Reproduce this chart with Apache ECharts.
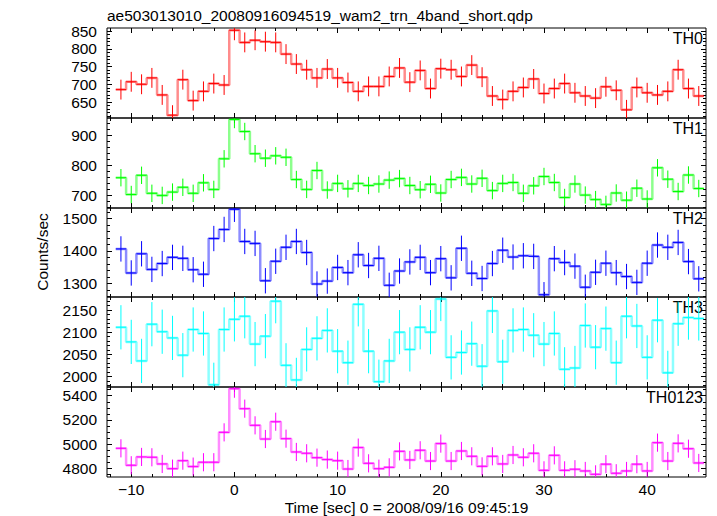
<!DOCTYPE html>
<html>
<head>
<meta charset="utf-8">
<script src="https://cdn.jsdelivr.net/npm/echarts@6/dist/echarts.min.js"></script>
<style>html,body{margin:0;padding:0;background:#fff}#c{width:717px;height:516px}</style>
</head>
<body>
<div id="c"></div>
<script>
// ---- data (bin centres in seconds, counts/sec) ----
const time = [-11,-10,-9,-8,-7,-6,-5,-4,-3,-2,-1,0,1,2,3,4,5,6,7,8,9,10,11,12,13,14,15,16,17,18,19,20,21,22,23,24,25,26,27,28,29,30,31,32,33,34,35,36,37,38,39,40,41,42,43,44,45];
const th0 = [685,707,700,718,670,613,713,654,680,702,698,852,818,824,820,818,785,757,741,718,743,718,705,680,694,694,722,746,706,739,688,744,741,722,754,720,667,657,680,691,715,674,688,702,676,667,661,693,683,628,691,676,670,680,741,688,667];
const th1 = [759,703,767,707,700,711,727,707,742,720,822,953,913,839,824,832,827,753,720,783,718,740,722,740,733,738,751,756,733,719,737,708,753,760,738,757,716,740,743,707,732,763,743,693,738,701,686,670,708,684,724,688,792,754,713,768,723];
const th2 = [1406,1332,1391,1343,1361,1380,1377,1342,1328,1438,1466,1528,1429,1423,1308,1368,1411,1429,1395,1298,1307,1349,1333,1388,1355,1377,1294,1338,1366,1380,1333,1376,1317,1408,1331,1315,1361,1402,1381,1385,1383,1265,1376,1364,1353,1288,1334,1362,1333,1321,1303,1362,1418,1411,1426,1367,1314];
const th3 = [2111,2078,2035,2118,2101,2087,2048,2106,2097,1981,2106,2129,2136,2073,2091,2170,2025,1992,2061,2086,2104,2057,2031,2163,2057,1988,2035,2100,2061,2111,2100,2175,2043,2054,2074,2023,2148,2033,2104,2106,2093,2073,2097,2016,2019,2115,2066,2108,2031,2136,2114,2043,2127,2008,2119,2133,2131];
const th0123 = [4965,4825,4894,4891,4836,4797,4863,4814,4850,4850,5097,5458,5293,5155,5042,5185,5045,4935,4924,4888,4872,4863,4794,4971,4841,4797,4808,4940,4869,4949,4860,5004,4860,4943,4899,4816,4899,4836,4910,4891,4924,4783,4907,4783,4792,4778,4750,4834,4759,4778,4834,4778,5012,4860,5006,4962,4844];
// half-length of the error bars
const errors = [28, 29, 39, 50, 75];
const binHalfWidth = 0.5;

const panelNames = ['TH0','TH1','TH2','TH3','TH0123'];
const panelValues = [th0, th1, th2, th3, th0123];
const panelColors = ['#ff0000','#00ff00','#0000ff','#00ffff','#ff00ff'];

// axis ranges and ticks
const xRange = [-12.35, 45.7];
const xTickLabels = [-10, 0, 10, 20, 30, 40];
const xMinorStep = 2;
const yRanges = [[605, 858.5],[658, 958],[1258, 1532],[1976, 2179.5],[4728, 5472]];
const yTickLabels = [[650,700,750,800,850],[700,800,900],[1300,1400,1500],[2000,2050,2100,2150],[4800,5000,5200,5400]];
const yMinorSteps = [10, 20, 20, 10, 50];

const title = 'ae503013010_20080916094519_wam2_trn_4band_short.qdp';
const xTitle = 'Time [sec] 0 = 2008/09/16 09:45:19';
const yTitle = 'Counts/sec';

// ---- layout ----
const FONT = "'Liberation Sans', Arial, Helvetica, sans-serif";
const plotLeft = 107, plotWidth = 599;
const tops = [28, 118, 208, 297, 387];
const heights = [90, 90, 89, 90, 90];

function stepTicks(lo, hi, step) {
  const out = [];
  for (let v = Math.ceil(lo / step) * step; v <= hi + 1e-9; v += step) out.push(+v.toFixed(6));
  return out;
}
const xMinor = stepTicks(xRange[0], xRange[1], xMinorStep);

const grids = [], xAxes = [], yAxes = [], series = [], graphics = [];

panelNames.forEach((name, i) => {
  grids.push({left: plotLeft, width: plotWidth, top: tops[i], height: heights[i],
    show: true, borderColor: '#000', borderWidth: 1, backgroundColor: 'rgba(0,0,0,0)'});
  const xBase = xAxes.length, yBase = yAxes.length;
  ['bottom','top'].forEach(pos => [true, false].forEach(major => {
    xAxes.push({type: 'value', gridIndex: i, position: pos, min: xRange[0], max: xRange[1],
      axisLine: {show: false, onZero: false}, splitLine: {show: false},
      axisTick: {show: true, inside: true, length: major ? 5 : 3,
        customValues: major ? xTickLabels : xMinor, lineStyle: {color: '#000', width: 1}},
      axisLabel: {show: major && pos === 'bottom' && i === panelNames.length - 1,
        customValues: xTickLabels, color: '#000', fontSize: 15.5, fontFamily: FONT, margin: 4,
        formatter: v => String(v).replace('-', '\u2212')}});
  }));
  const yMinor = stepTicks(yRanges[i][0], yRanges[i][1], yMinorSteps[i]);
  ['left','right'].forEach(pos => [true, false].forEach(major => {
    yAxes.push({type: 'value', gridIndex: i, position: pos, min: yRanges[i][0], max: yRanges[i][1],
      axisLine: {show: false, onZero: false}, splitLine: {show: false},
      axisTick: {show: true, inside: true, length: major ? 5 : 3,
        customValues: major ? yTickLabels[i] : yMinor, lineStyle: {color: '#000', width: 1}},
      axisLabel: {show: major && pos === 'left', customValues: yTickLabels[i],
        color: '#000', fontSize: 15.5, fontFamily: FONT, margin: 10,
        formatter: v => String(v)}});
  }));

  const vals = panelValues[i];
  const edges = time.map((t, k) => [t - binHalfWidth, vals[k]]);
  edges.push([time[time.length - 1] + binHalfWidth, vals[vals.length - 1]]);
  series.push({type: 'line', xAxisIndex: xBase, yAxisIndex: yBase, data: edges, step: 'end',
    symbol: 'none', clip: true, silent: true,
    lineStyle: {color: panelColors[i], width: 2.5, opacity: 0.45}});
  const color = panelColors[i];
  series.push({type: 'custom', xAxisIndex: xBase, yAxisIndex: yBase, clip: true, silent: true,
    data: time.map((t, k) => [t, vals[k], errors[i]]),
    encode: {x: 0, y: 1},
    renderItem: (params, api) => {
      const t = api.value(0), v = api.value(1), e = api.value(2);
      const a = api.coord([t, v + e]), b = api.coord([t, v - e]);
      const l = api.coord([t - binHalfWidth, v]), r = api.coord([t + binHalfWidth, v]);
      return {type: 'group', children: [
        {type: 'line', shape: {x1: a[0], y1: a[1], x2: b[0], y2: b[1]}, style: {stroke: color, lineWidth: 1}},
        {type: 'line', shape: {x1: l[0], y1: l[1], x2: r[0], y2: r[1]}, style: {stroke: color, lineWidth: 1}}
      ]};
    }});
  graphics.push({type: 'text', x: plotLeft + plotWidth - 3, y: tops[i] + 10,
    style: {text: name, font: '16px ' + FONT, fill: '#000', align: 'right', verticalAlign: 'middle'}});
});

graphics.push({type: 'text', x: plotLeft, y: 15,
  style: {text: title, font: '15.5px ' + FONT, fill: '#000', align: 'left', verticalAlign: 'middle'}});
graphics.push({type: 'text', x: plotLeft + plotWidth / 2, y: 507,
  style: {text: xTitle, font: '15.5px ' + FONT, fill: '#000', align: 'center', verticalAlign: 'middle'}});
graphics.push({type: 'text', x: 42, y: 252, rotation: Math.PI / 2,
  style: {text: yTitle, font: '15.5px ' + FONT, fill: '#000', align: 'center', verticalAlign: 'middle'}});

const chart = echarts.init(document.getElementById('c'), null, {renderer: 'svg'});
chart.setOption({animation: false, backgroundColor: '#fff',
  grid: grids, xAxis: xAxes, yAxis: yAxes, series: series, graphic: graphics});
</script>
</body>
</html>
